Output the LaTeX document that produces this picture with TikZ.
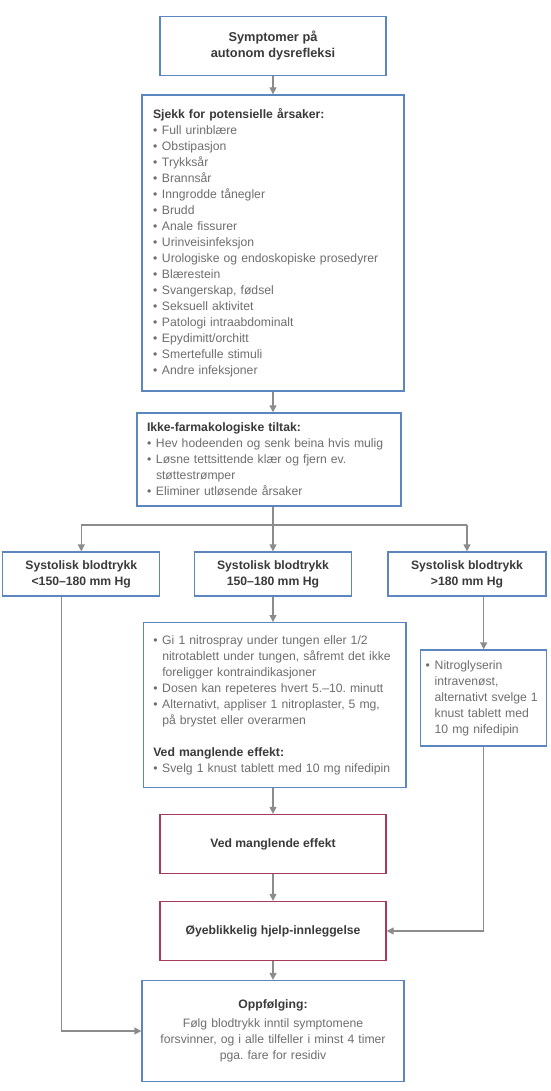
\documentclass[tikz,border=0pt]{standalone}
\usepackage{fontspec}
\setmainfont{Liberation Sans}
\usetikzlibrary{arrows.meta}
\definecolor{bblue}{HTML}{5B86BF}
\definecolor{bred}{HTML}{A63A58}
\definecolor{agray}{HTML}{8C8C8C}
\definecolor{tdark}{HTML}{3A3A3A}
\definecolor{tgray}{HTML}{6E6E6E}
\newcommand\bul{\makebox[9pt][l]{•}}
\newcommand\ind{\hspace*{9pt}}
\newcommand\hd[1]{{\bfseries\color{tdark}#1}}
\frenchspacing
\begin{document}
\begin{tikzpicture}[x=1pt,y=-1pt,
  bluebox/.style={draw=bblue, line width=1.3pt, fill=white, inner sep=0pt,
    font=\fontsize{12.2}{16}\selectfont\frenchspacing, text=tgray},
  redbox/.style={bluebox, draw=bred},
  headtxt/.style={text=tdark, font=\fontsize{12.2}{16}\selectfont\bfseries, align=center},
  conn/.style={draw=agray, line width=1.3pt, -{Triangle[length=7pt,width=7pt]}},
  wire/.style={draw=agray, line width=1.3pt}]
\useasboundingbox (0,0) rectangle (550,1091);

\node[bluebox, headtxt, minimum width=226pt, minimum height=59pt,
  font=\fontsize{12.8}{16.5}\selectfont\bfseries] (b1) at (273,45.7)
  {Symptomer på\\autonom dysrefleksi};

\node[bluebox, text width=240pt, inner xsep=11pt, minimum height=296pt, align=left] (b2) at (273,243)
  {\hd{Sjekk for potensielle årsaker:}\\
   \bul Full urinblære\\
   \bul Obstipasjon\\
   \bul Trykksår\\
   \bul Brannsår\\
   \bul Inngrodde tånegler\\
   \bul Brudd\\
   \bul Anale fissurer\\
   \bul Urinveisinfeksjon\\
   \bul Urologiske og endoskopiske prosedyrer\\
   \bul Blærestein\\
   \bul Svangerskap, fødsel\\
   \bul Seksuell aktivitet\\
   \bul Patologi intraabdominalt\\
   \bul Epydimitt/orchitt\\
   \bul Smertefulle stimuli\\
   \bul Andre infeksjoner};

\node[bluebox, text width=244pt, inner xsep=10pt, minimum height=93pt, align=left] (b3) at (269,459.4)
  {\hd{Ikke-farmakologiske tiltak:}\\
   \bul Hev hodeenden og senk beina hvis mulig\\
   \bul Løsne tettsittende klær og fjern ev.\\
   \ind støttestrømper\\
   \bul Eliminer utløsende årsaker};

\node[bluebox, headtxt, minimum width=157pt, minimum height=44pt] (bpl) at (81.3,574)
  {Systolisk blodtrykk\\<150–180 mm Hg};
\node[bluebox, headtxt, minimum width=157pt, minimum height=44pt] (bpm) at (273,574)
  {Systolisk blodtrykk\\150–180 mm Hg};
\node[bluebox, headtxt, minimum width=158pt, minimum height=44pt] (bpr) at (467,574)
  {Systolisk blodtrykk\\>180 mm Hg};

\node[bluebox, text width=242.7pt, inner xsep=10pt, minimum height=164.6pt, align=left] (dm) at (274.6,705)
  {\bul Gi 1 nitrospray under tungen eller 1/2\\
   \ind nitrotablett under tungen, såfremt det ikke\\
   \ind foreligger kontraindikasjoner\\
   \bul Dosen kan repeteres hvert 5.–10. minutt\\
   \bul Alternativt, appliser 1 nitroplaster, 5 mg,\\
   \ind på brystet eller overarmen\\[16pt]
   \hd{Ved manglende effekt:}\\
   \bul Svelg 1 knust tablett med 10 mg nifedipin};

\node[bluebox, text width=116pt, inner xsep=5pt, minimum height=96pt, align=left] (dr) at (483.7,698)
  {\bul Nitroglyserin\\
   \ind intravenøst,\\
   \ind alternativt svelge 1\\
   \ind knust tablett med\\
   \ind 10 mg nifedipin};

\node[redbox, headtxt, minimum width=226pt, minimum height=59pt] (ved) at (273,844)
  {Ved manglende effekt};
\node[redbox, headtxt, minimum width=226pt, minimum height=59pt] (oye) at (273,931)
  {Øyeblikkelig hjelp-innleggelse};

\node[bluebox, text width=242pt, inner xsep=10pt, minimum height=101pt, align=center] (opp) at (273,1031)
  {\hd{Oppfølging:}\\[3pt]
   Følg blodtrykk inntil symptomene\\
   forsvinner, og i alle tilfeller i minst 4 timer\\
   pga. fare for residiv};

\coordinate (j) at (273,525);
\coordinate (lx) at (61.8,0);
\draw[conn] (b1.south) -- (b2.north);
\draw[conn] (b2.south) -- (b2.south |- b3.north);
\draw[wire] (b2.south |- b3.south) -- (j);
\draw[wire] (bpl.north |- j) -- (bpr.north |- j);
\draw[conn] (bpl.north |- j) -- (bpl.north);
\draw[conn] (j) -- (bpm.north);
\draw[conn] (bpr.north |- j) -- (bpr.north);
\draw[conn] (lx |- bpl.south) -- (lx |- opp.west) -- (opp.west);
\draw[conn] (bpm.south) -- (bpm.south |- dm.north);
\draw[conn] (dr.north |- bpr.south) -- (dr.north);
\draw[conn] (dr.south) -- (dr.south |- oye.east) -- (oye.east);
\draw[conn] (ved.north |- dm.south) -- (ved.north);
\draw[conn] (ved.south) -- (oye.north);
\draw[conn] (oye.south) -- (opp.north);
\end{tikzpicture}
\end{document}
